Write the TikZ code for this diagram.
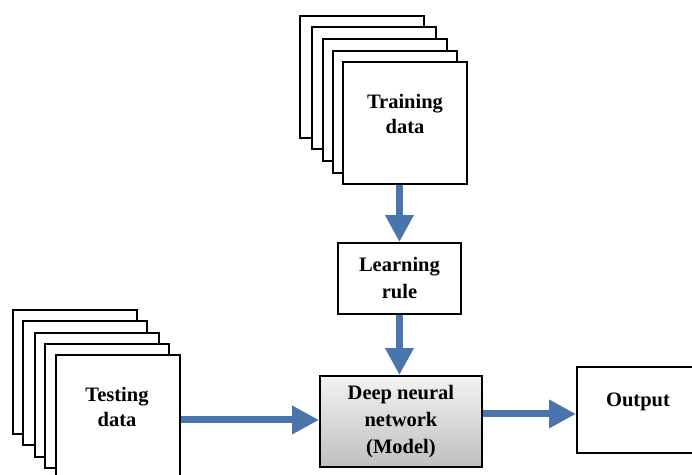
\documentclass[tikz,border=0pt]{standalone}
\usepackage{fontspec}
\setmainfont{Liberation Serif}
\usetikzlibrary{arrows.meta,shadows}
\definecolor{arrowblue}{HTML}{4A74AC}
\begin{document}
\begin{tikzpicture}[x=1pt,y=-1pt,
  sheet/.style={draw=black,line width=1.9pt,fill=white,minimum width=124pt,minimum height=#1,anchor=north west,inner sep=0pt},
  box/.style={draw=black,line width=1.9pt,fill=white,anchor=north west,inner sep=0pt,align=center,font=\bfseries\fontsize{20.5}{27}\selectfont},
  lbl/.style={font=\bfseries\fontsize{20.5}{25}\selectfont,align=center,inner sep=0pt},
  flow/.style={draw=arrowblue,line width=7pt,-{Triangle[length=27pt,width=27pt]}}
]
\useasboundingbox (0,0) rectangle (692,474);
\fill[white] (0,0) rectangle (692,474);

% stack of training sheets
\node[sheet=122pt] (tr1) at (299,15) {};
\node[sheet=122pt] (tr2) at (311,26) {};
\node[sheet=122pt] (tr3) at (322,38) {};
\node[sheet=122pt] (tr4) at (332,50) {};
\node[sheet=122pt] (train) at (342,61) {};
\node[lbl] (trainlbl) at (405,114) {Training\\data};

% stack of testing sheets
\node[sheet=124pt] (te1) at (12,309) {};
\node[sheet=124pt] (te2) at (22,320) {};
\node[sheet=124pt] (te3) at (34,332) {};
\node[sheet=124pt] (te4) at (44,343) {};
\node[sheet=124pt] (test) at (55,354) {};
\node[lbl] (testlbl) at (117,407) {Testing\\data};

% processing blocks
\node[box,minimum width=123pt,minimum height=71pt] (learn) at (337,242) {Learning\\rule};
\node[box,minimum width=162pt,minimum height=91pt,top color=white!95!black,bottom color=black!25,
      drop shadow={shadow xshift=1.5pt,shadow yshift=-1.5pt,fill=black!45}] (dnn) at (319,375)
      {Deep neural\\network\\(Model)};
\node[box,minimum width=125pt,minimum height=86pt] (out) at (576,366) {};
\node[lbl] (outlbl) at (638,402) {Output};

% connectors
\draw[flow] (learn.north |- train.south) -- (learn.north);
\draw[flow] (learn.south) -- (learn.south |- dnn.north);
\draw[flow] ([yshift=1.5pt]dnn.west -| test.east) -- ([yshift=1.5pt]dnn.west);
\draw[flow] ([yshift=7.5pt]dnn.east) -- ([yshift=7.5pt]dnn.east -| out.west);
\end{tikzpicture}
\end{document}
